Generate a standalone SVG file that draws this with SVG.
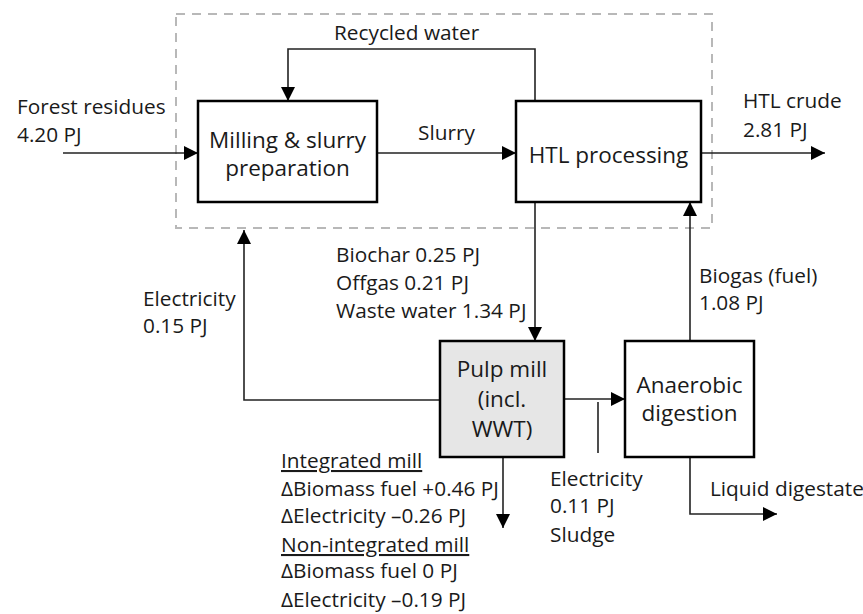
<svg xmlns="http://www.w3.org/2000/svg" width="863" height="614" viewBox="0 0 863 614">
<defs>
<marker id="arr" viewBox="0 0 14 14" refX="14" refY="7" markerWidth="14" markerHeight="14" markerUnits="userSpaceOnUse" orient="auto">
<path d="M0,0 L14,7 L0,14 Z" fill="#000"/>
</marker>
</defs>
<style>
text{font-family:"Open Sans","Liberation Sans",sans-serif;font-size:20.8px;fill:#1a1a1a}
.c{text-anchor:middle;font-size:22.5px}
.box{fill:#fff;stroke:#000;stroke-width:2.5}
.grey{fill:#e6e6e6}
.ln{fill:none;stroke:#222;stroke-width:1.6}
.u{text-decoration:underline}
</style>
<rect width="863" height="614" fill="#fff"/>
<rect id="boundary" x="176" y="14" width="536" height="214" fill="none" stroke="#b8b8b8" stroke-width="2" stroke-dasharray="9,7"/>
<g id="connectors">
<path class="ln" d="M63,153 H198" marker-end="url(#arr)"/>
<path class="ln" d="M377,153 H516" marker-end="url(#arr)"/>
<path class="ln" d="M535,101 V49 H288 V101" marker-end="url(#arr)"/>
<path class="ln" d="M701,153 H825" marker-end="url(#arr)"/>
<path class="ln" d="M535,202 V341" marker-end="url(#arr)"/>
<path class="ln" d="M440,400 H244 V230" marker-end="url(#arr)"/>
<path class="ln" d="M690,341 V202" marker-end="url(#arr)"/>
<path class="ln" d="M564,399 H625" marker-end="url(#arr)"/>
<path class="ln" d="M598,402 V453"/>
<path class="ln" d="M503,457 V528" marker-end="url(#arr)"/>
<path class="ln" d="M690,457 V514 H777" marker-end="url(#arr)"/>
</g>
<g id="milling">
<rect class="box" x="198" y="101" width="179" height="101"/>
<text class="c" x="287.5" y="148">Milling &amp; slurry</text>
<text class="c" x="287.5" y="176">preparation</text>
</g>
<g id="htl">
<rect class="box" x="516" y="101" width="185" height="101"/>
<text class="c" x="608.5" y="163">HTL processing</text>
</g>
<g id="pulpmill">
<rect class="box grey" x="440" y="341" width="124" height="116"/>
<text class="c" x="502" y="377">Pulp mill</text>
<text class="c" x="502" y="407">(incl.</text>
<text class="c" x="502" y="437">WWT)</text>
</g>
<g id="ad">
<rect class="box" x="625" y="341" width="129" height="116"/>
<text class="c" x="689.5" y="393">Anaerobic</text>
<text class="c" x="689.5" y="421">digestion</text>
</g>
<g id="labels">
<text x="17" y="114">Forest residues</text>
<text x="17" y="142">4.20 PJ</text>
<text x="334" y="40">Recycled water</text>
<text x="418" y="140">Slurry</text>
<text x="743" y="108">HTL crude</text>
<text x="743" y="137">2.81 PJ</text>
<text x="336" y="262">Biochar 0.25 PJ</text>
<text x="336" y="290">Offgas 0.21 PJ</text>
<text x="336" y="318">Waste water 1.34 PJ</text>
<text x="143" y="306">Electricity</text>
<text x="143" y="333">0.15 PJ</text>
<text x="699" y="283">Biogas (fuel)</text>
<text x="699" y="310">1.08 PJ</text>
<text x="550" y="486">Electricity</text>
<text x="550" y="513">0.11 PJ</text>
<text x="550" y="542">Sludge</text>
<text x="710" y="496">Liquid digestate</text>
<text class="u" x="281" y="468">Integrated mill</text>
<text x="281" y="496">ΔBiomass fuel +0.46 PJ</text>
<text x="281" y="523">ΔElectricity –0.26 PJ</text>
<text class="u" x="281" y="552">Non-integrated mill</text>
<text x="281" y="578">ΔBiomass fuel 0 PJ</text>
<text x="281" y="607">ΔElectricity –0.19 PJ</text>
</g>
</svg>
